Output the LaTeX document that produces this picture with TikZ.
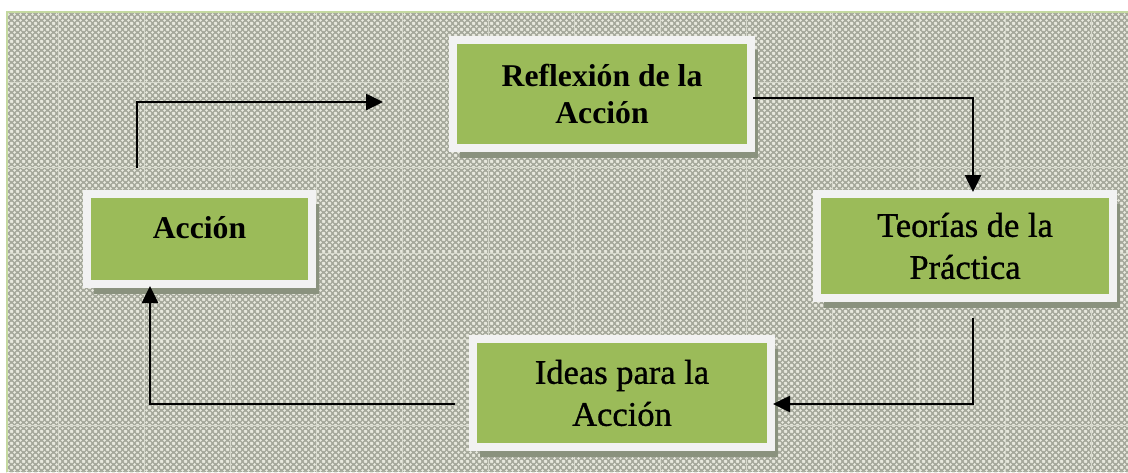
\documentclass[tikz,border=0pt]{standalone}
\usepackage{fontspec}
\setmainfont{Liberation Serif}
\newfontfamily\medserif{Liberation Serif}[FakeBold=0.9]
\usetikzlibrary{arrows.meta, positioning, patterns, shadows}

\definecolor{boxgreen}{HTML}{9BBB59}
\definecolor{boxrim}{HTML}{F2F2F2}
\definecolor{bgbase}{RGB}{164,167,154}
\definecolor{bgdot}{RGB}{232,233,222}
\definecolor{bgline}{RGB}{214,216,204}
\definecolor{bgedge}{RGB}{196,217,160}
\definecolor{shadowcol}{RGB}{138,146,126}

\pgfdeclarepatternformonly{bgweave}{\pgfqpoint{0pt}{0pt}}{\pgfqpoint{6pt}{6pt}}{\pgfqpoint{6pt}{6pt}}{%
  \pgfpathcircle{\pgfqpoint{0pt}{0pt}}{1.7pt}%
  \pgfpathcircle{\pgfqpoint{6pt}{0pt}}{1.7pt}%
  \pgfpathcircle{\pgfqpoint{0pt}{6pt}}{1.7pt}%
  \pgfpathcircle{\pgfqpoint{6pt}{6pt}}{1.7pt}%
  \pgfpathcircle{\pgfqpoint{3pt}{3pt}}{1.7pt}%
  \pgfusepath{fill}}

\begin{document}
\begin{tikzpicture}[
        x=1pt, y=-1pt,
        box/.style={rectangle, fill=boxgreen, draw=boxrim, line width=8pt, outer sep=2pt, align=center,
          drop shadow={shadow xshift=7pt, shadow yshift=-10pt, fill=shadowcol, opacity=1}},
        boldlabel/.style={font=\fontsize{31.7}{37}\selectfont\bfseries},
        plainlabel/.style={font=\fontsize{34.5}{42}\selectfont\medserif},
        link/.style={draw, line width=2.6pt, -{Triangle[length=17pt, width=16pt]}}
    ]
    \useasboundingbox (0,0) rectangle (1128,472);

    % 背景
    \fill[bgbase] (6,11) rectangle (1128,472);
    \fill[pattern=bgweave, pattern color=bgdot] (6,11) rectangle (1128,472);
    \foreach \gx in {0,...,12}
        \draw[bgline, line width=1pt] ({58+86.1*\gx},11) -- ({58+86.1*\gx},472);
    \foreach \gy in {0,...,4}
        \draw[bgline, line width=1pt] (6,{82+85.8*\gy}) -- (1128,{82+85.8*\gy});
    \draw[bgedge, line width=2.5pt] (7,472) -- (7,12) -- (1128,12);

    % 方框
    \node[box, boldlabel, minimum width=298pt, minimum height=108pt] (refl) at (602,94) {Reflexión de la\\Acción};
    \node[box, plainlabel, minimum width=296pt, minimum height=104pt] (teo) at (965,246) {Teorías de la\\Práctica};
    \node[box, plainlabel, minimum width=298pt, minimum height=108pt] (ideas) at (622,393) {Ideas para la\\Acción};
    \node[box, boldlabel, minimum width=225pt, minimum height=90pt, text depth=24pt] (acc) at (199.5,239) {Acción};

    % 箭头
    \draw[link] ([xshift=-62.5pt, yshift=24pt]acc.north) |- ([xshift=-68pt, yshift=-8pt]refl.west);
    \draw[link] ([yshift=-4pt]refl.east) -| ([xshift=8pt]teo.north);
    \draw[link] ([xshift=8pt, yshift=-18pt]teo.south) |- ([yshift=-11pt]ideas.east);
    \draw[link] ([xshift=-16pt, yshift=-11pt]ideas.west) -| ([xshift=-49.5pt]acc.south);

\end{tikzpicture}
\end{document}
